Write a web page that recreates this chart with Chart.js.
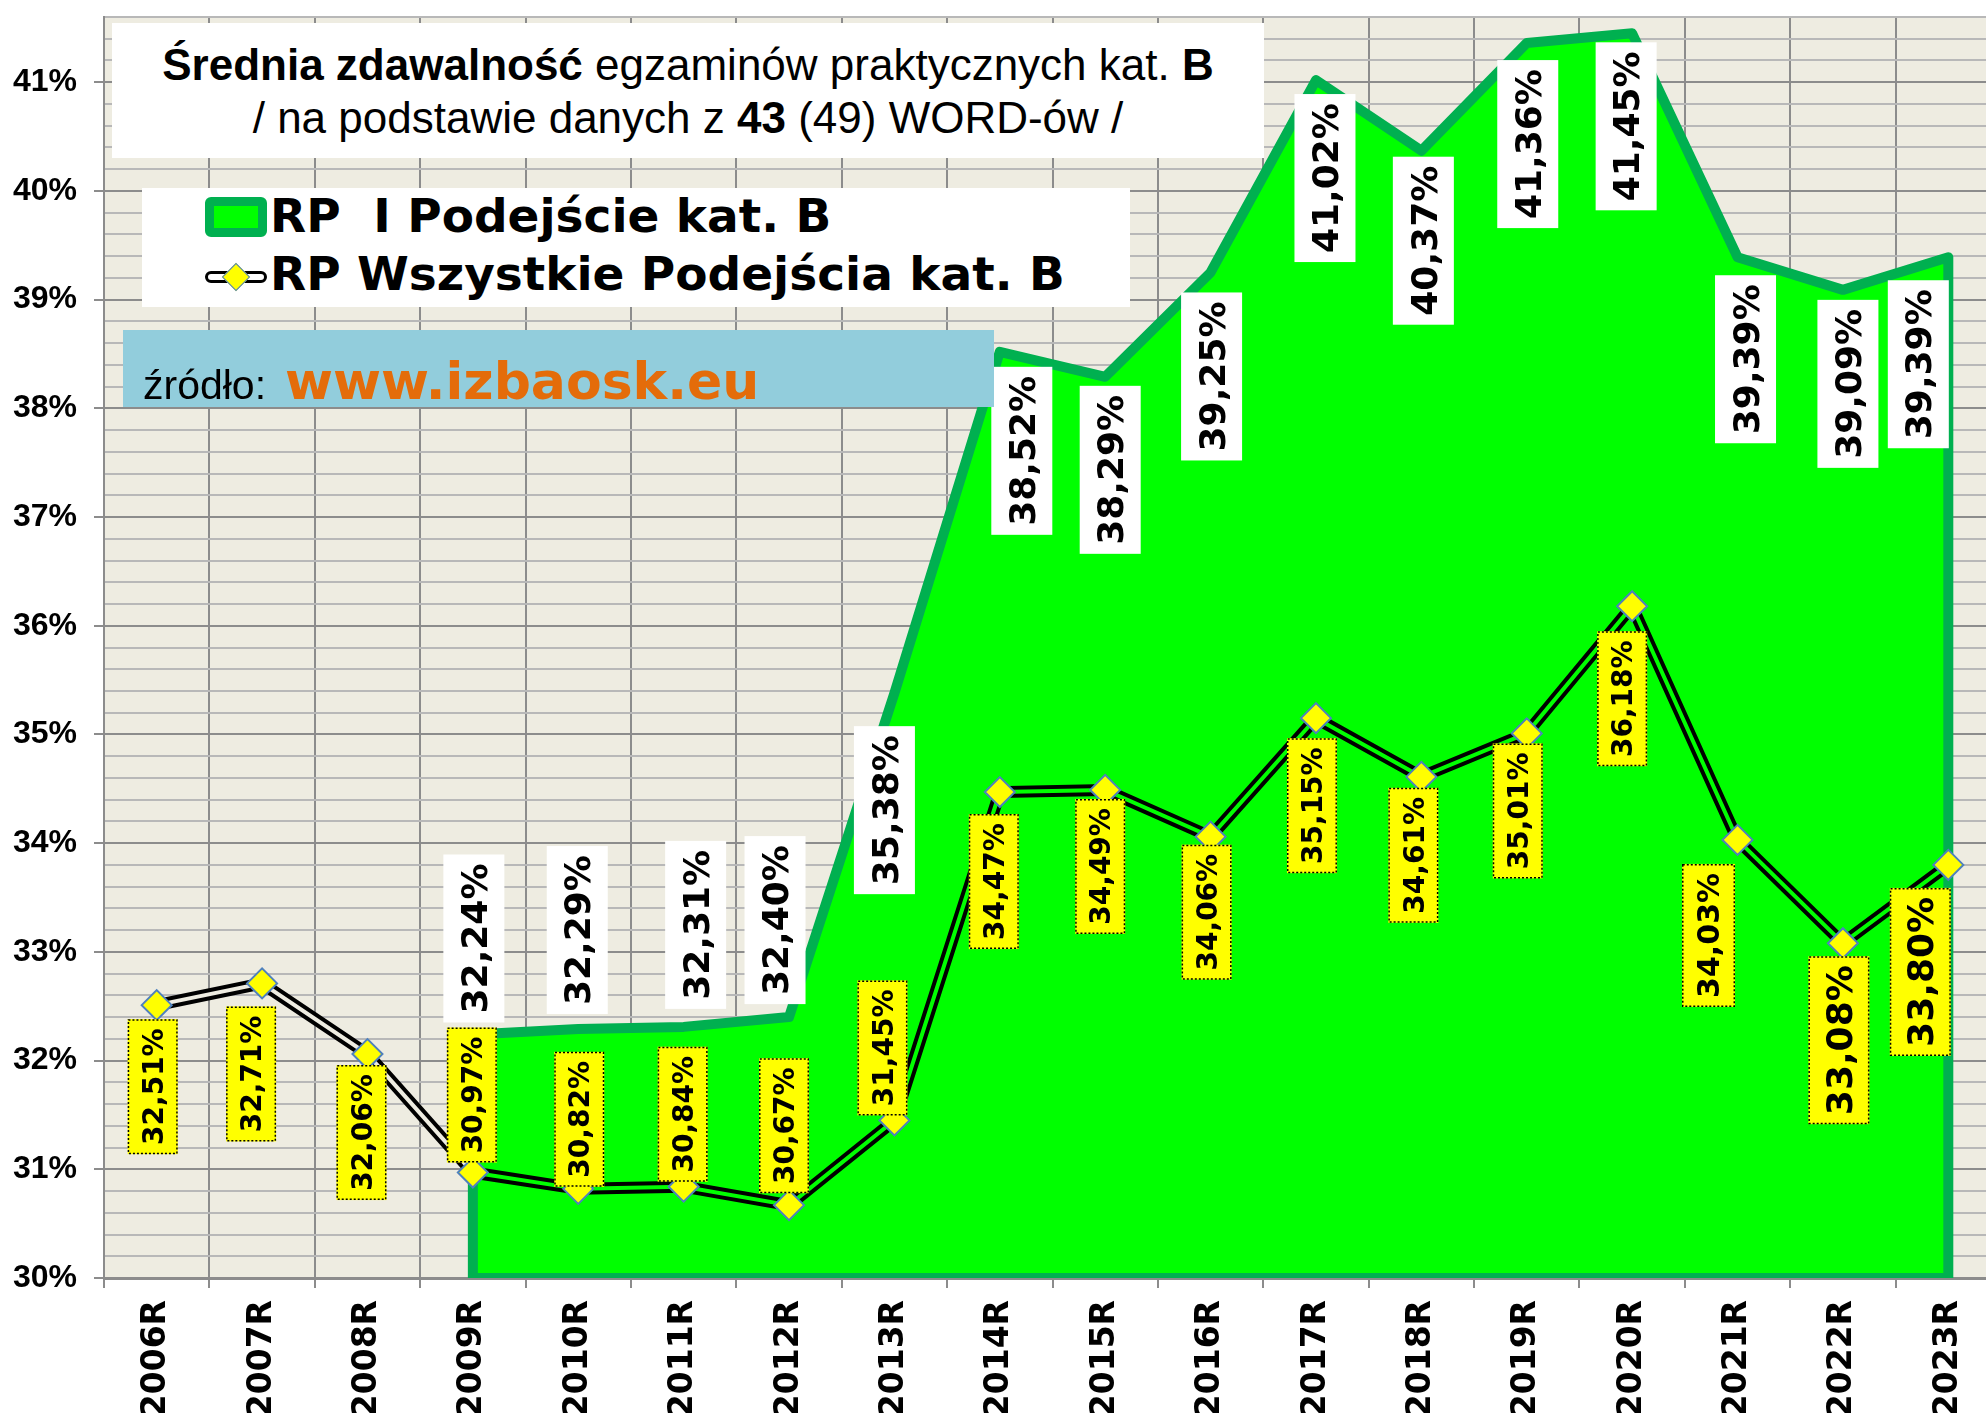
<!DOCTYPE html>
<html lang="pl">
<head>
<meta charset="utf-8">
<title>Średnia zdawalność egzaminów praktycznych kat. B</title>
<script src="https://cdn.jsdelivr.net/npm/chart.js"></script>
<style>
  html, body { margin: 0; padding: 0; background: #fff; overflow: hidden; }
  #wrap { position: relative; width: 1986px; height: 1413px; overflow: hidden; }
  #wykres { position: absolute; left: 0; top: 0; }
  .pole { position: absolute; }
  .linia { position: absolute; white-space: pre; line-height: normal; }
  .arial { font-family: "Liberation Sans", Arial, sans-serif; }
  .ciezki { font-family: "DejaVu Sans", sans-serif; font-weight: bold; }
</style>
</head>
<body>
<div id="wrap">
  <canvas id="wykres" width="2040" height="1413"></canvas>

  <!-- tytul -->
  <div class="pole" style="left:112px; top:23px; width:1152px; height:135px; background:#fff;">
    <div class="linia arial" style="left:0; width:1152px; top:17px; font-size:44px; text-align:center;"><b>Średnia zdawalność</b> egzaminów praktycznych kat. <b>B</b></div>
    <div class="linia arial" style="left:0; width:1152px; top:70px; font-size:44px; text-align:center;">/ na podstawie danych z <b>43</b> (49) WORD-ów /</div>
  </div>

  <!-- legenda -->
  <div class="pole" style="left:142px; top:188px; width:988px; height:119px; background:#fff;"></div>
  <div class="pole" style="left:205px; top:197px; width:62px; height:40px; box-sizing:border-box; border:9px solid #00B050; border-radius:6px; background:#00FF00;"></div>
  <div class="pole" style="left:205px; top:271px; width:62px; height:12px; box-sizing:border-box; border:3px solid #000; border-radius:6px; background:#fff;"></div>
  <div class="pole" style="left:226px; top:267px; width:20px; height:20px; box-sizing:border-box; border:1.5px solid #4F81BD; background:#FFFF00; transform:rotate(45deg);"></div>
  <div class="linia ciezki" style="left:270px; top:188px; font-size:47px;">RP  I Podejście kat. B</div>
  <div class="linia ciezki" style="left:270px; top:246px; font-size:47px;">RP Wszystkie Podejścia kat. B</div>

  <!-- zrodlo -->
  <div class="pole" style="left:123px; top:330px; width:871px; height:77px; background:#92CDDC;"></div>
  <div class="linia arial" style="left:143px; top:362px; font-size:41px;">źródło:</div>
  <div class="linia ciezki" style="left:285px; top:351px; font-size:52px; color:#E46C0A;">www.izbaosk.eu</div>
</div>

<script>
const kategorie = ['2006R', '2007R', '2008R', '2009R', '2010R', '2011R', '2012R', '2013R', '2014R',
                   '2015R', '2016R', '2017R', '2018R', '2019R', '2020R', '2021R', '2022R', '2023R'];
// RP I Podejscie kat. B (dane od 2009)
const pierwszePodejscie = [null, null, null, 32.24, 32.29, 32.31, 32.40, 35.38, 38.52,
                           38.29, 39.25, 41.02, 40.37, 41.36, 41.45, 39.39, 39.09, 39.39];
// RP Wszystkie Podejscia kat. B
const wszystkiePodejscia = [32.51, 32.71, 32.06, 30.97, 30.82, 30.84, 30.67, 31.45, 34.47,
                            34.49, 34.06, 35.15, 34.61, 35.01, 36.18, 34.03, 33.08, 33.80];
const osMin = 30;
const osMax = 41.6;
const osKrok = 0.2;

// ulozenie ramek z wartosciami: [przesuniecie w poziomie, odstep od punktu]; odstep < 0 => ramka nad punktem
const ramkiBiale = [null, null, null, [1, -12], [-1, -15], [12, -18], [-14, -13], [-10, 33], [22, 15],
                    [5, 9], [1, 20], [9, 14], [2, 6], [1, 17], [-6, 9], [8, 18], [5, 10], [-30, 23]];
const ramkiZolte = [[-4, 14], [-11, 23], [-6, 11], [-1, -10], [1, -2], [-1, -5], [-5, -12], [-12, -5], [-6, 22],
                    [-5, 9], [-4, 8], [-4, 20], [-8, 11], [-9, 10], [-10, 25], [-29, 24], [-4, 13], [-28, 23]];
const czcionkaZolte = [28, 28, 28, 28, 28, 28, 28, 28, 28, 28, 28, 28, 28, 28, 28, 30, 36, 36];

const ZIELONY = '#00FF00';
const ZIELONY_OBRYS = '#00B050';
const BEZ = '#EEECE1';
const SIATKA = '#8c8c8c';
const SIATKA_DROBNA = '#b8b8b8';

function calkowita(v) {
  return Math.abs(v - Math.round(v)) < 1e-6;
}

function procent(v) {
  return v.toFixed(2).replace('.', ',') + '%';
}

const tloWykresu = {
  id: 'tloWykresu',
  beforeDraw(chart) {
    const a = chart.chartArea;
    const ctx = chart.ctx;
    ctx.save();
    ctx.fillStyle = BEZ;
    ctx.fillRect(a.left, a.top, a.right - a.left, a.bottom - a.top);
    ctx.restore();
  }
};

// obrys pola (gora, boki i dol) jak w Excelu
const obrysObszaru = {
  id: 'obrysObszaru',
  afterDatasetDraw(chart, args) {
    if (args.index !== 0) return;
    const pts = args.meta.data.filter(p => !p.skip);
    if (!pts.length) return;
    const a = chart.chartArea;
    const ctx = chart.ctx;
    ctx.save();
    ctx.beginPath();
    ctx.rect(a.left, 0, a.right - a.left, a.bottom);
    ctx.clip();
    ctx.beginPath();
    ctx.moveTo(pts[0].x, a.bottom);
    pts.forEach(p => ctx.lineTo(p.x, p.y));
    ctx.lineTo(pts[pts.length - 1].x, a.bottom);
    ctx.closePath();
    ctx.lineWidth = 10;
    ctx.lineJoin = 'round';
    ctx.strokeStyle = ZIELONY_OBRYS;
    ctx.stroke();
    ctx.restore();
  }
};

function ramka(ctx, x, y, tekst, rozmiar, tlo, kropki) {
  ctx.font = 'bold ' + rozmiar + 'px "DejaVu Sans"';
  const dl = ctx.measureText(tekst).width;
  const w = Math.round(rozmiar * 1.3 + 14);
  const h = Math.round(dl + 18);
  return {w: w, h: h, dl: dl};
}

function rysujRamke(ctx, px, py, uklad, tekst, rozmiar, tlo, kropki) {
  const m = ramka(ctx, px, py, tekst, rozmiar);
  const cx = px + uklad[0];
  const gap = uklad[1];
  const top = gap >= 0 ? py + gap : py + gap - m.h;
  const left = cx - m.w / 2;
  ctx.fillStyle = tlo;
  ctx.fillRect(left, top, m.w, m.h);
  if (kropki) {
    ctx.save();
    ctx.setLineDash([2, 2]);
    ctx.lineWidth = 1.5;
    ctx.strokeStyle = '#000';
    ctx.strokeRect(left + 0.75, top + 0.75, m.w - 1.5, m.h - 1.5);
    ctx.restore();
  }
  ctx.save();
  ctx.translate(cx, top + m.h / 2);
  ctx.rotate(-Math.PI / 2);
  ctx.fillStyle = '#000';
  ctx.textAlign = 'center';
  ctx.textBaseline = 'alphabetic';
  ctx.fillText(tekst, 0, rozmiar * 0.365);
  ctx.restore();
}

const etykiety = {
  id: 'etykiety',
  afterDatasetsDraw(chart) {
    const ctx = chart.ctx;
    ctx.save();
    const obszar = chart.getDatasetMeta(0).data;
    pierwszePodejscie.forEach((v, i) => {
      if (v === null) return;
      rysujRamke(ctx, obszar[i].x, obszar[i].y, ramkiBiale[i], procent(v), 36, '#fff', false);
    });
    const linia = chart.getDatasetMeta(2).data;
    wszystkiePodejscia.forEach((v, i) => {
      rysujRamke(ctx, linia[i].x, linia[i].y, ramkiZolte[i], procent(v), czcionkaZolte[i], '#FFFF00', true);
    });
    ctx.restore();
  }
};

new Chart(document.getElementById('wykres'), {
  type: 'line',
  data: {
    labels: kategorie,
    datasets: [
      {
        label: 'RP  I Podejście kat. B',
        data: pierwszePodejscie,
        order: 3,
        fill: 'start',
        backgroundColor: ZIELONY,
        borderWidth: 0,
        borderColor: 'rgba(0,0,0,0)',
        pointRadius: 0,
        tension: 0
      },
      {
        label: 'RP Wszystkie Podejścia kat. B (obrys)',
        data: wszystkiePodejscia,
        order: 2,
        fill: false,
        borderColor: '#000',
        borderWidth: 12,
        pointRadius: 0,
        tension: 0
      },
      {
        label: 'RP Wszystkie Podejścia kat. B',
        data: wszystkiePodejscia,
        order: 1,
        fill: false,
        borderWidth: 4,
        borderColor: ZIELONY,
        segment: {
          borderColor: c => c.p0DataIndex < 3 ? BEZ : ZIELONY
        },
        pointStyle: 'rectRot',
        pointRadius: 15,
        pointHoverRadius: 15,
        pointBackgroundColor: '#FFFF00',
        pointBorderColor: '#4F81BD',
        pointBorderWidth: 2,
        tension: 0
      }
    ]
  },
  options: {
    responsive: false,
    animation: false,
    events: [],
    layout: { padding: { left: 13, top: 9, right: 39, bottom: 0 } },
    plugins: {
      legend: { display: false },
      tooltip: { enabled: false }
    },
    scales: {
      x: {
        offset: true,
        grid: { offset: true, color: SIATKA, lineWidth: 2, tickLength: 10, tickColor: SIATKA, tickWidth: 2 },
        border: { color: SIATKA, width: 3 },
        ticks: {
          autoSkip: false,
          maxRotation: 90,
          minRotation: 90,
          padding: 12,
          color: '#000',
          font: { family: 'DejaVu Sans', weight: 'bold', size: 33 }
        },
        afterFit(s) {
          s.height = 135;
          s.paddingLeft = 0;
          s.paddingRight = 0;
        }
      },
      y: {
        min: osMin,
        max: osMax,
        ticks: {
          stepSize: osKrok,
          autoSkip: false,
          padding: 17,
          color: '#000',
          font: { family: 'Liberation Sans', weight: 'bold', size: 32 },
          callback: v => calkowita(v) ? Math.round(v) + '%' : ''
        },
        grid: {
          color: c => calkowita(c.tick.value) ? SIATKA : SIATKA_DROBNA,
          lineWidth: 2,
          tickLength: 10,
          tickColor: c => calkowita(c.tick.value) ? SIATKA : 'rgba(0,0,0,0)',
          tickWidth: 2
        },
        border: { color: SIATKA, width: 2 },
        afterFit(s) {
          s.width = 91;
          s.paddingTop = 0;
          s.paddingBottom = 0;
        }
      }
    }
  },
  plugins: [tloWykresu, obrysObszaru, etykiety]
});
</script>
</body>
</html>
